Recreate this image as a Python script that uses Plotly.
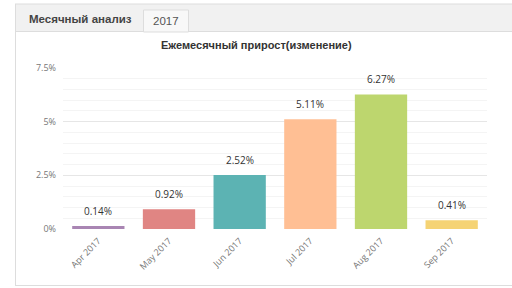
import plotly.graph_objects as go

months = ["Apr 2017", "May 2017", "Jun 2017", "Jul 2017", "Aug 2017", "Sep 2017"]
growth = [0.14, 0.92, 2.52, 5.11, 6.27, 0.41]
bar_colors = ["#a985b3", "#e08583", "#5cb3b3", "#ffbf94", "#bdd66e", "#f5d374"]
y_tickvals = [0, 2.5, 5, 7.5]
y_ticktext = ["0%", "2.5%", "5%", "7.5%"]

W, H = 512, 288
L, R, T, B = 63, 25, 68, 59
PW, PH = W - L - R, H - T - B

def px(x):
    return (x - L) / PW

def py(y):
    return (H - B - y) / PH

fig = go.Figure()
fig.add_trace(go.Bar(
    x=months, y=growth, marker=dict(color=bar_colors, line=dict(width=0)),
    hoverinfo="skip",
))

for m, v in zip(months, growth):
    fig.add_annotation(x=m, y=v, text=f"{v:.2f}%", showarrow=False,
                       yanchor="bottom", yshift=6,
                       font=dict(size=10, color="#333333", family="Open Sans"))

shapes = [
    dict(type="rect", xref="paper", yref="paper", x0=px(15), x1=px(513), y0=py(31.5), y1=py(4),
         fillcolor="#f1f1f1", line=dict(width=0), layer="below"),
    dict(type="line", xref="paper", yref="paper", x0=px(15), x1=px(513), y0=py(4), y1=py(4),
         line=dict(color="#dddddd", width=1)),
    dict(type="line", xref="paper", yref="paper", x0=px(15), x1=px(513), y0=py(31.5), y1=py(31.5),
         line=dict(color="#dddddd", width=1)),
    dict(type="rect", xref="paper", yref="paper", x0=px(143.5), x1=px(188.5), y0=py(32), y1=py(10),
         fillcolor="#f8f8f8", line=dict(color="#dddddd", width=1)),
    dict(type="line", xref="paper", yref="paper", x0=px(15.5), x1=px(15.5), y0=py(4), y1=py(286),
         line=dict(color="#dddddd", width=1)),
    dict(type="line", xref="paper", yref="paper", x0=px(15), x1=px(513), y0=py(285.5), y1=py(285.5),
         line=dict(color="#dddddd", width=1)),
]

annotations_extra = [
    dict(text="<b>Месячный анализ</b>", xref="paper", yref="paper", x=px(27), y=py(19),
         xanchor="left", yanchor="middle", showarrow=False,
         font=dict(size=11.5, color="#444444", family="Liberation Sans")),
    dict(text="2017", xref="paper", yref="paper", x=px(166), y=py(21),
         xanchor="center", yanchor="middle", showarrow=False,
         font=dict(size=11.5, color="#555555", family="Liberation Sans")),
    dict(text="<b>Ежемесячный прирост(изменение)</b>", xref="paper", yref="paper", x=px(256), y=py(45),
         xanchor="center", yanchor="middle", showarrow=False,
         font=dict(size=11, color="#333333", family="Liberation Sans")),
]
for a in annotations_extra:
    fig.add_annotation(**a)

fig.update_layout(
    width=W, height=H,
    margin=dict(l=L, r=R, t=T, b=B, pad=0),
    paper_bgcolor="white", plot_bgcolor="white",
    showlegend=False,
    bargap=0.26,
    shapes=shapes,
    font=dict(family="Open Sans", color="#777777", size=9),
)
fig.update_xaxes(
    tickangle=-45, showgrid=False, zeroline=False, showline=False,
    tickfont=dict(size=9, color="#777777", family="Open Sans"), ticks="",
    ticklabelstandoff=4,
)
fig.update_yaxes(
    range=[0, 7.5], tickvals=y_tickvals, ticktext=y_ticktext,
    showgrid=True, gridcolor="#e6e6e6", gridwidth=1, zeroline=False, showline=False,
    tickfont=dict(size=9, color="#777777", family="Open Sans"), ticks="", ticklabelstandoff=6,
    minor=dict(dtick=0.5, showgrid=True, gridcolor="#f4f4f4", gridwidth=1),
)

fig.write_html("out.html")
